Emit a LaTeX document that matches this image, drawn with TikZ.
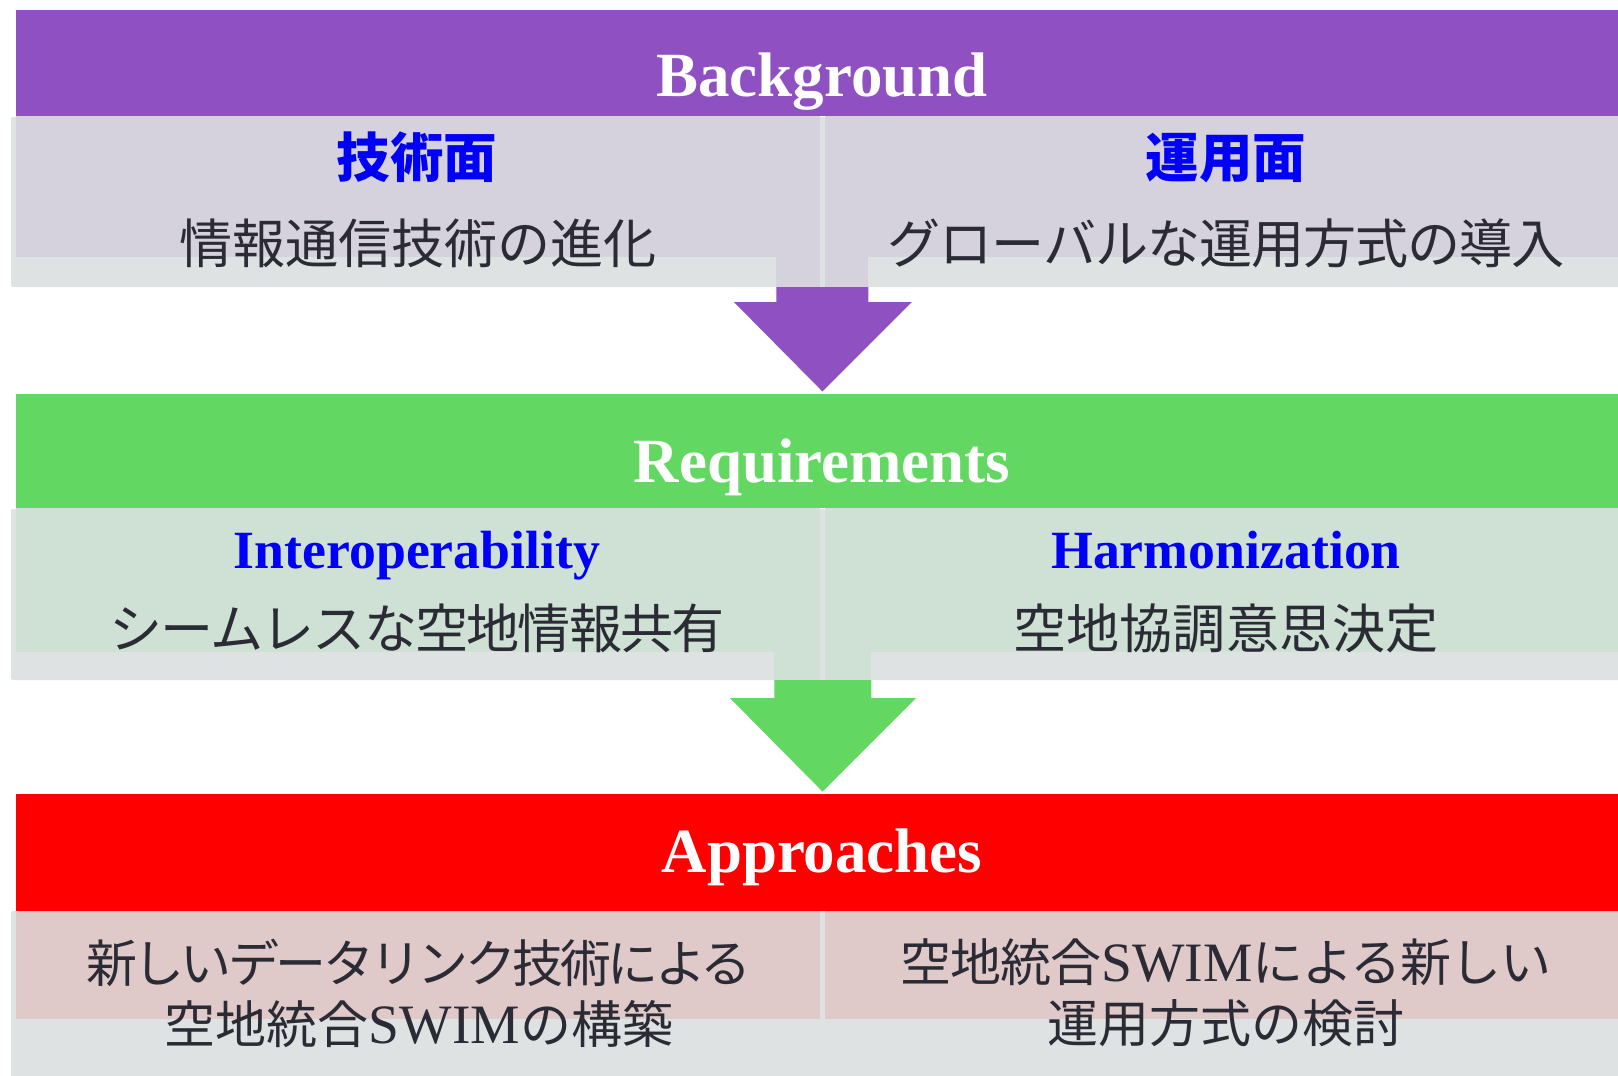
\documentclass[tikz,border=0pt]{standalone}
\usepackage{fontspec}
\setmainfont{Liberation Serif}
\newfontfamily\jpfont{Noto Sans CJK JP}
\newfontfamily\latinfont{Liberation Serif}
\usepackage{xcolor}
\usepackage{tikz}
\usetikzlibrary{calc}

\definecolor{bgband}{RGB}{143,80,193}
\definecolor{bgtint}{RGB}{213,209,221}
\definecolor{reqband}{RGB}{98,216,98}
\definecolor{reqtint}{RGB}{207,224,212}
\definecolor{appband}{RGB}{255,0,0}
\definecolor{apptint}{RGB}{223,201,201}
\definecolor{panelgray}{RGB}{223,226,226}
\definecolor{headblue}{RGB}{0,0,250}
\definecolor{bodytext}{RGB}{43,43,53}

\tikzset{
  band/.style={anchor=north west, inner sep=0pt, outer sep=0pt, minimum width=16.12cm},
  tint/.style={anchor=north west, inner sep=0pt, outer sep=0pt},
  title/.style={anchor=base, text=white, font=\fontsize{17.9pt}{20pt}\selectfont\bfseries},
  headjp/.style={anchor=base, text=headblue, font=\jpfont\fontsize{15.2pt}{18pt}\selectfont\bfseries},
  headen/.style={anchor=base, text=headblue, font=\fontsize{15.3pt}{18pt}\selectfont\bfseries},
  body/.style={anchor=base, text=bodytext, font=\jpfont\fontsize{15.1pt}{18pt}\selectfont},
  bodytwo/.style={align=center, text=bodytext, font=\jpfont\fontsize{14.5pt}{17.4pt}\selectfont}
}
\newcommand{\swim}{{\latinfont\fontsize{15.8pt}{17.4pt}\selectfont SWIM}}
\newcommand{\tight}[2]{{\addfontfeature{LetterSpace=#1}#2}}

\begin{document}
\begin{tikzpicture}[x=0.01cm, y=-0.01cm]
\useasboundingbox[fill=white] (0,0) rectangle (1618,1075);

\fill[panelgray, rounded corners=0.6pt] (11,117) rectangle (1630,287);
\fill[panelgray, rounded corners=0.6pt] (11,509) rectangle (1630,680);
\fill[panelgray, rounded corners=0.6pt] (11,911) rectangle (1630,1090);

\node[band, fill=bgband, minimum height=1.06cm] (bg) at (16,10) {};
\node[tint, fill=bgtint, minimum width=8.04cm, minimum height=1.41cm] (bgL) at (16,116) {};
\node[tint, fill=bgtint, minimum width=8.05cm, minimum height=1.41cm] (bgR) at (825,116) {};
\fill[bgtint] (776,257) rectangle (820,287);
\fill[bgtint] (825,257) rectangle (868,287);

\node[band, fill=reqband, minimum height=1.14cm] (req) at (16,394) {};
\node[tint, fill=reqtint, minimum width=8.04cm, minimum height=1.44cm] (reqL) at (16,508) {};
\node[tint, fill=reqtint, minimum width=8.05cm, minimum height=1.44cm] (reqR) at (825,508) {};
\fill[reqtint] (774,652) rectangle (820,680);
\fill[reqtint] (825,652) rectangle (871,680);

\node[band, fill=appband, minimum height=1.17cm] (app) at (16,794) {};
\node[tint, fill=apptint, minimum width=8.04cm, minimum height=1.08cm] (appL) at (16,911) {};
\node[tint, fill=apptint, minimum width=8.05cm, minimum height=1.08cm] (appR) at (825,911) {};

\fill[bgband] ($(req.north)+(-46,-107)$) -- ++(92,0) -- ++(0,15) -- ++(45,0)
  -- ($(req.north)+(0,-1)$) -- ++(-90,-91) -- ++(44,0) -- cycle;
\draw[white, line width=0.5pt] ($(req.north)+(-90,-92)$) -- ($(req.north)+(0,-1)$) -- ($(req.north)+(91,-92)$);
\fill[reqband] ($(app.north)+(-48,-114)$) -- ++(97,0) -- ++(0,18) -- ++(46,0)
  -- ($(app.north)+(0,-1)$) -- ++(-94,-95) -- ++(46,0) -- cycle;
\draw[white, line width=0.5pt] ($(app.north)+(-94,-96)$) -- ($(app.north)+(0,-1)$) -- ($(app.north)+(95,-96)$);

\node[title] (bgT) at (822,96) {Background};
\node[headjp] (bgLh) at (417,177) {技術面};
\node[headjp] (bgRh) at (1226,177) {運用面};
\node[body] (bgLt) at (418,263) {情報通信技術の進化};
\node[body] (bgRt) at (1226,263) {\tight{-2}{グローバルな運用方式の導入}};

\node[title] (reqT) at (822,482) {Requirements};
\node[headen] (reqLh) at (417,568) {Interoperability};
\node[headen] (reqRh) at (1226,568) {Harmonization};
\node[body] (reqLt) at (417,648) {\tight{-3.5}{シームレスな空地情報共有}};
\node[body] (reqRt) at (1226,648) {空地協調意思決定};

\node[title] (appT) at (822,872) {Approaches};
\node[bodytwo] (appLt) at (419,993) {\tight{-7}{新しいデータリンク技術による}\\空地統合\swim の構築};
\node[bodytwo] (appRt) at (1226,993) {\tight{-2}{空地統合\swim による新しい}\\運用方式の検討};
\end{tikzpicture}
\end{document}
